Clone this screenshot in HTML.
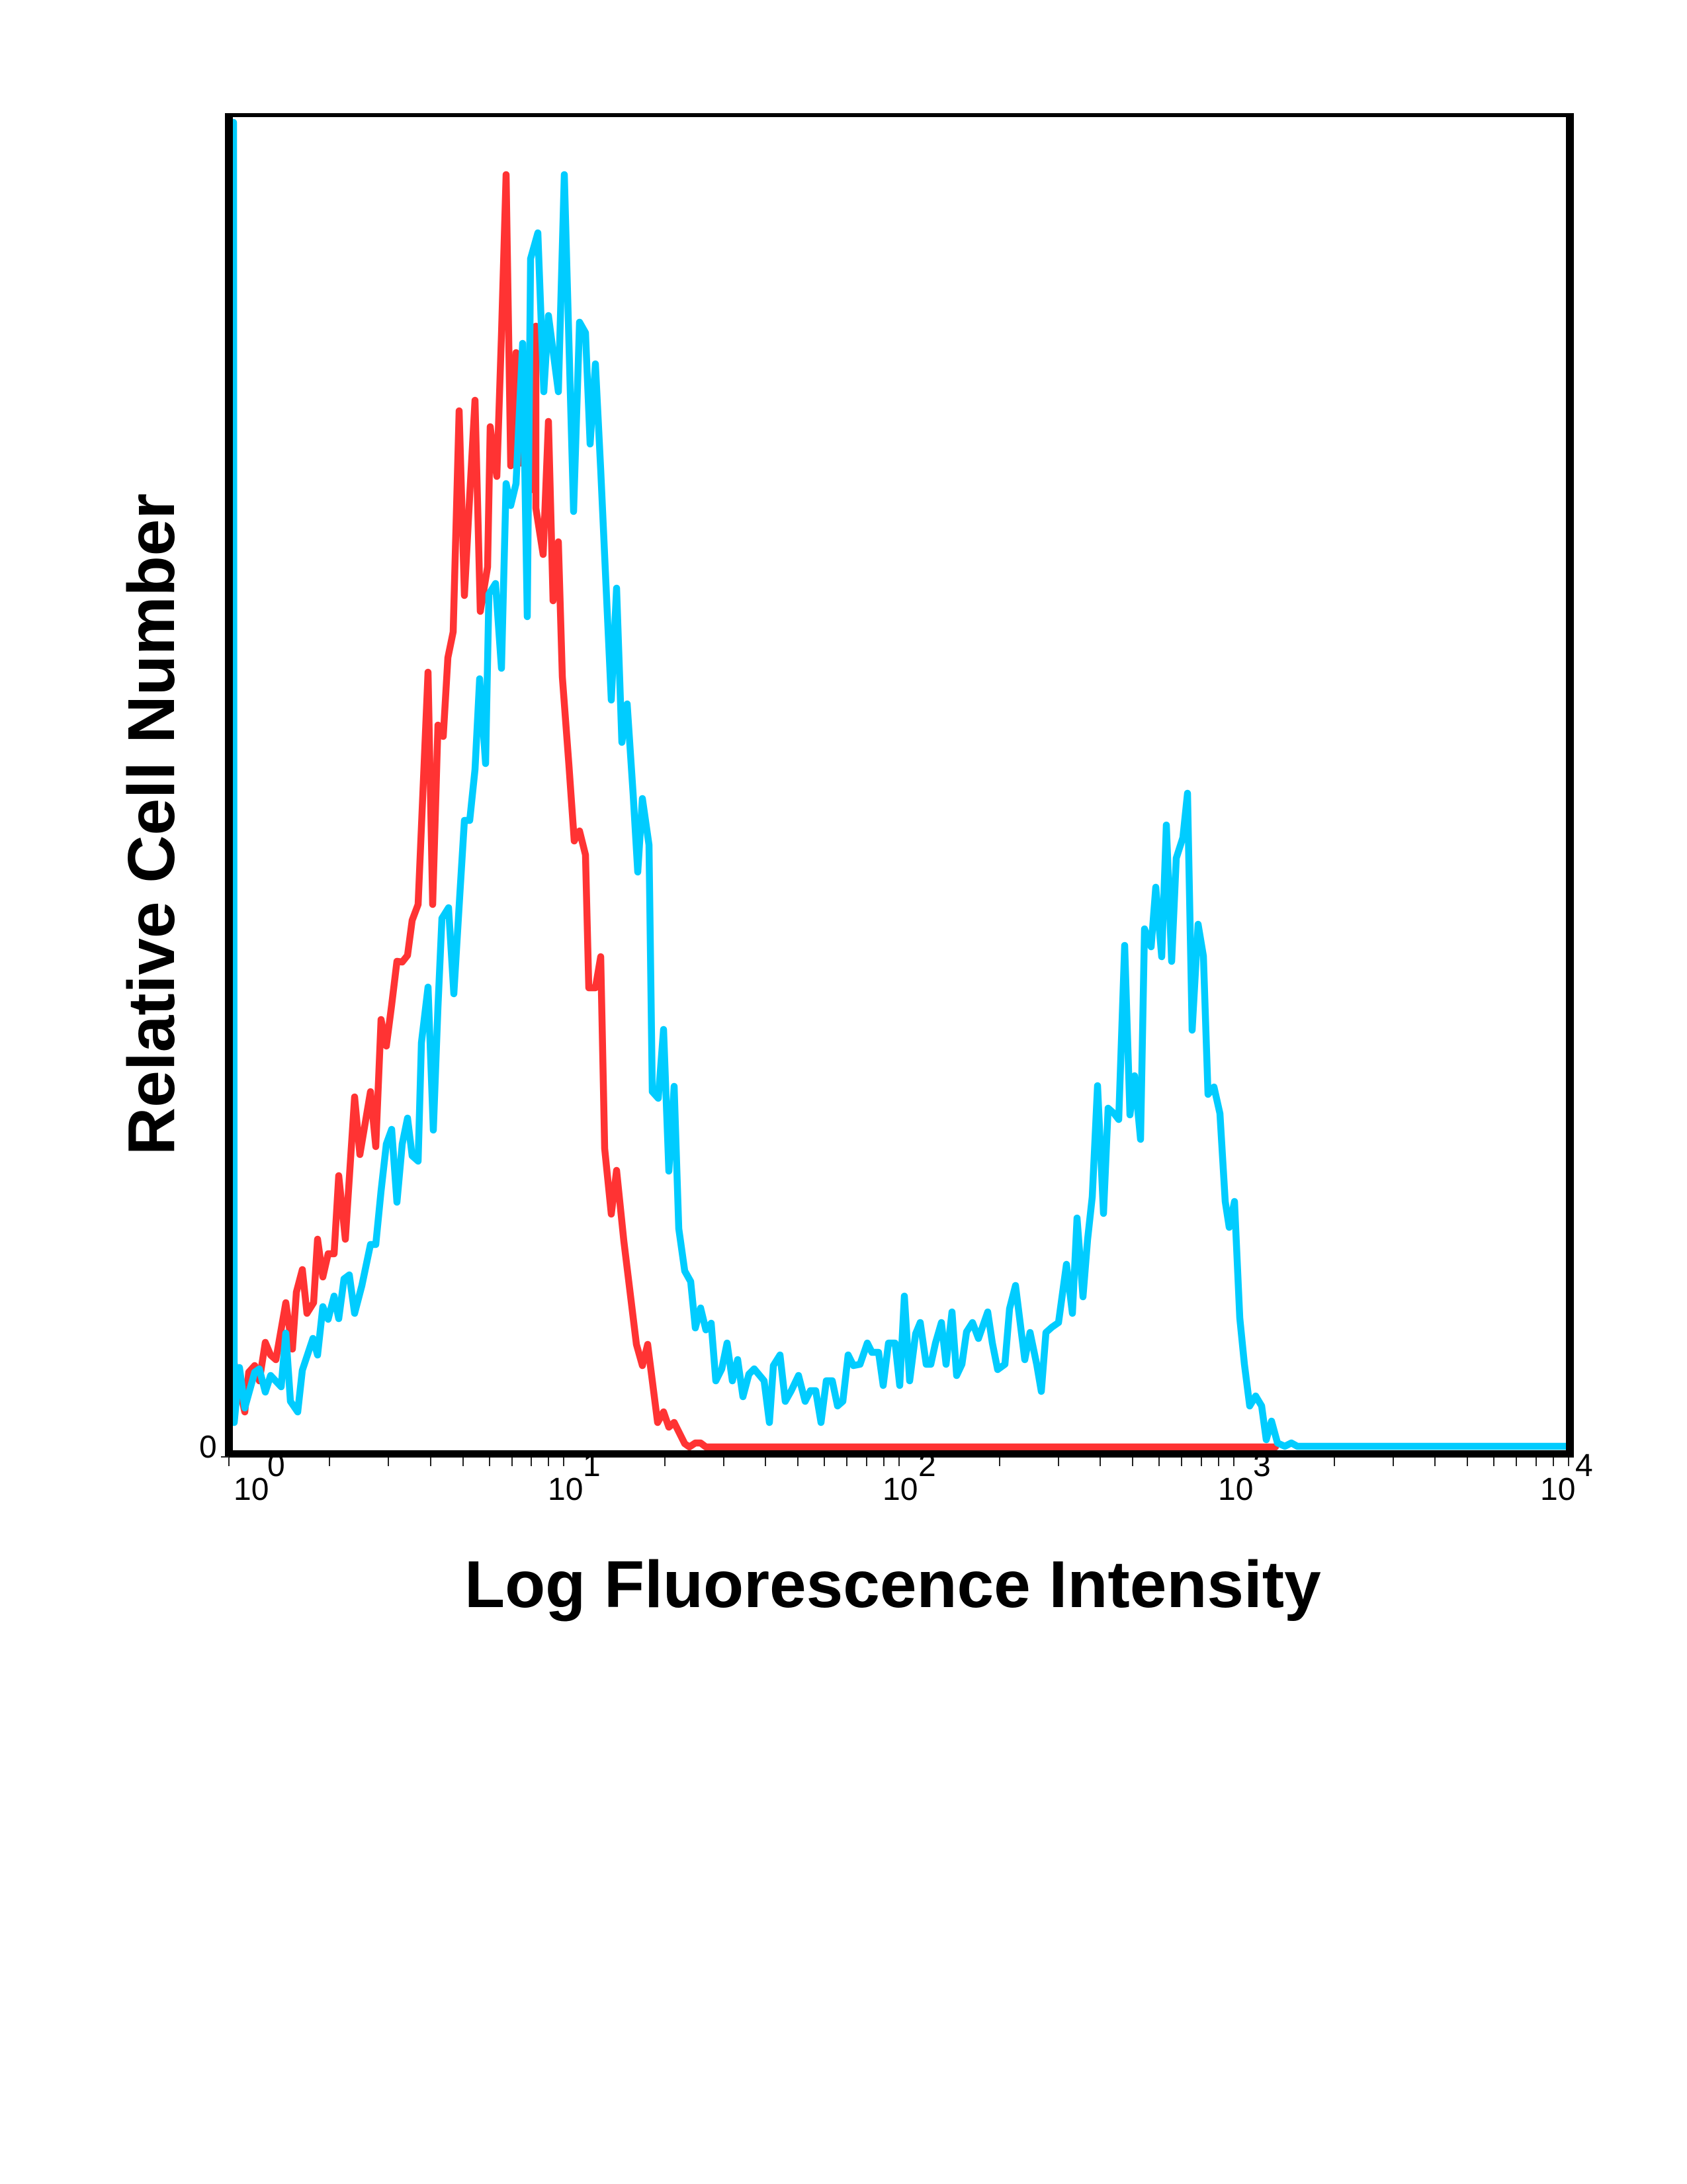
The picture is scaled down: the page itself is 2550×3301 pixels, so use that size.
<!DOCTYPE html>
<html>
<head>
<meta charset="utf-8">
<style>
  html, body { margin:0; padding:0; background:#ffffff; }
  body { width:2550px; height:3301px; overflow:hidden; }
  svg { display:block; }
</style>
</head>
<body>
<svg width="2550" height="3301" viewBox="0 0 2550 3301" xmlns="http://www.w3.org/2000/svg">
  <rect x="0" y="0" width="2550" height="3301" fill="#ffffff"/>

  <!-- Red histogram -->
  <polyline fill="none" stroke="#ff3333" stroke-width="10.5" stroke-linejoin="round" stroke-linecap="round"
    points="354,2061 370,2134 376,2074 385,2064 392,2087 401,2029 409,2048 417,2055 432,1969 442,2039 448,1953 457,1919 464,1985 474,1969 480,1873 488,1930 496,1895 505,1895 512,1777 522,1873 536,1658 544,1745 560,1650 568,1733 576,1541 584,1581 592,1519 600,1453 608,1454 616,1444 623,1391 632,1367 647,1016 654,1367 662,1096 670,1113 677,994 685,955 694,621 702,900 710,749 718,605 726,924 737,857 741,645 746,685 751,720 758,506 765,264 772,704 780,533 788,700 795,560 803,740 810,493 810,768 821,838 829,637 836,908 844,819 850,1023 860,1157 868,1271 876,1256 885,1292 890,1493 900,1493 908,1446 914,1736 924,1835 932,1769 943,1876 962,2032 971,2064 979,2032 994,2150 1003,2134 1011,2157 1019,2150 1035,2182 1042,2187 1051,2181 1059,2181 1067,2187 1928,2187"/>

  <!-- Cyan histogram -->
  <polyline fill="none" stroke="#00ccff" stroke-width="10.5" stroke-linejoin="round" stroke-linecap="round"
    points="353,185 354,2150 362,2067 370,2128 385,2074 392,2069 401,2104 409,2079 425,2096 432,2015 439,2118 450,2134 457,2071 473,2023 480,2048 488,1975 496,1994 505,1959 512,1993 520,1933 528,1927 536,1985 547,1943 560,1881 568,1881 576,1800 584,1729 592,1707 600,1817 608,1729 616,1690 623,1747 632,1755 637,1576 647,1492 655,1708 662,1522 668,1388 678,1372 686,1502 695,1353 702,1240 710,1240 718,1163 725,1026 734,1154 739,898 749,882 758,1010 765,731 772,764 780,731 790,519 797,932 802,391 813,352 822,592 829,477 844,592 853,264 867,773 876,487 885,503 892,671 900,550 908,710 924,1058 932,889 940,1122 948,1064 957,1200 964,1318 971,1207 981,1277 986,1650 995,1660 1003,1556 1011,1770 1019,1642 1026,1857 1035,1921 1044,1937 1051,2007 1059,1977 1067,2010 1075,2000 1082,2087 1091,2069 1099,2030 1107,2087 1115,2055 1123,2111 1132,2077 1140,2069 1155,2087 1163,2150 1169,2064 1179,2048 1187,2118 1196,2102 1207,2079 1217,2118 1225,2102 1233,2102 1241,2150 1249,2087 1258,2087 1266,2125 1274,2118 1282,2048 1290,2064 1300,2062 1311,2030 1318,2044 1328,2044 1335,2094 1343,2030 1353,2030 1360,2094 1367,1959 1375,2087 1384,2016 1391,1999 1400,2062 1407,2062 1414,2030 1423,1999 1430,2062 1439,1983 1446,2079 1454,2062 1461,2013 1470,1999 1479,2023 1493,1983 1500,2030 1508,2070 1519,2062 1526,1978 1535,1943 1542,1999 1549,2055 1557,2014 1567,2062 1574,2103 1581,2014 1590,2006 1600,1999 1612,1911 1621,1985 1628,1841 1637,1960 1644,1873 1651,1809 1659,1641 1668,1834 1675,1675 1684,1683 1691,1692 1700,1429 1708,1685 1715,1626 1724,1722 1730,1404 1740,1431 1747,1341 1756,1446 1763,1247 1771,1453 1778,1297 1788,1266 1795,1199 1802,1557 1811,1397 1819,1445 1826,1654 1835,1643 1844,1683 1852,1816 1858,1855 1866,1816 1874,1992 1881,2062 1889,2125 1898,2110 1907,2125 1914,2176 1922,2148 1931,2181 1942,2186 1952,2181 1961,2186 2370,2186"/>

  <!-- Frame -->
  <rect x="340" y="171" width="2039" height="6" fill="#000"/>
  <rect x="340" y="171" width="12" height="2032" fill="#000"/>
  <rect x="2367" y="171" width="12" height="2032" fill="#000"/>
  <rect x="340" y="2192" width="2039" height="11" fill="#000"/>

  <!-- Ticks -->
  <g stroke="#222" stroke-width="2">
    <line x1="334" y1="2202" x2="346" y2="2202"/>
    <line x1="346" y1="2203" x2="346" y2="2216"/>
    <line x1="498" y1="2203" x2="498" y2="2216"/>
    <line x1="587" y1="2203" x2="587" y2="2216"/>
    <line x1="651" y1="2203" x2="651" y2="2216"/>
    <line x1="700" y1="2203" x2="700" y2="2216"/>
    <line x1="740" y1="2203" x2="740" y2="2216"/>
    <line x1="774" y1="2203" x2="774" y2="2216"/>
    <line x1="803" y1="2203" x2="803" y2="2216"/>
    <line x1="829" y1="2203" x2="829" y2="2216"/>
    <line x1="852" y1="2203" x2="852" y2="2216"/>
    <line x1="1005" y1="2203" x2="1005" y2="2216"/>
    <line x1="1094" y1="2203" x2="1094" y2="2216"/>
    <line x1="1157" y1="2203" x2="1157" y2="2216"/>
    <line x1="1206" y1="2203" x2="1206" y2="2216"/>
    <line x1="1246" y1="2203" x2="1246" y2="2216"/>
    <line x1="1280" y1="2203" x2="1280" y2="2216"/>
    <line x1="1310" y1="2203" x2="1310" y2="2216"/>
    <line x1="1336" y1="2203" x2="1336" y2="2216"/>
    <line x1="1359" y1="2203" x2="1359" y2="2216"/>
    <line x1="1511" y1="2203" x2="1511" y2="2216"/>
    <line x1="1600" y1="2203" x2="1600" y2="2216"/>
    <line x1="1663" y1="2203" x2="1663" y2="2216"/>
    <line x1="1712" y1="2203" x2="1712" y2="2216"/>
    <line x1="1752" y1="2203" x2="1752" y2="2216"/>
    <line x1="1786" y1="2203" x2="1786" y2="2216"/>
    <line x1="1816" y1="2203" x2="1816" y2="2216"/>
    <line x1="1842" y1="2203" x2="1842" y2="2216"/>
    <line x1="1865" y1="2203" x2="1865" y2="2216"/>
    <line x1="2017" y1="2203" x2="2017" y2="2216"/>
    <line x1="2106" y1="2203" x2="2106" y2="2216"/>
    <line x1="2169" y1="2203" x2="2169" y2="2216"/>
    <line x1="2218" y1="2203" x2="2218" y2="2216"/>
    <line x1="2258" y1="2203" x2="2258" y2="2216"/>
    <line x1="2292" y1="2203" x2="2292" y2="2216"/>
    <line x1="2322" y1="2203" x2="2322" y2="2216"/>
    <line x1="2348" y1="2203" x2="2348" y2="2216"/>
    <line x1="2371" y1="2203" x2="2371" y2="2216"/>
  </g>

  <!-- Tick labels -->
  <g font-family="'Liberation Sans', Arial, sans-serif" font-size="48" fill="#000">
    <text x="301" y="2203">0</text>

    <text x="353" y="2267">10</text>
    <text x="404" y="2231">0</text>

    <text x="828" y="2267">10</text>
    <text x="881" y="2231">1</text>

    <text x="1334" y="2267">10</text>
    <text x="1388" y="2231">2</text>

    <text x="1841" y="2267">10</text>
    <text x="1894" y="2231">3</text>

    <text x="2328" y="2267">10</text>
    <text x="2381" y="2231">4</text>
  </g>

  <!-- Axis titles -->
  <text x="702" y="2429" font-family="'Liberation Sans', Arial, sans-serif" font-size="100" font-weight="bold" fill="#000">Log Fluorescence Intensity</text>
  <text transform="translate(263,1746) rotate(-90)" font-family="'Liberation Sans', Arial, sans-serif" font-size="100" font-weight="bold" fill="#000">Relative Cell Number</text>
</svg>
</body>
</html>
